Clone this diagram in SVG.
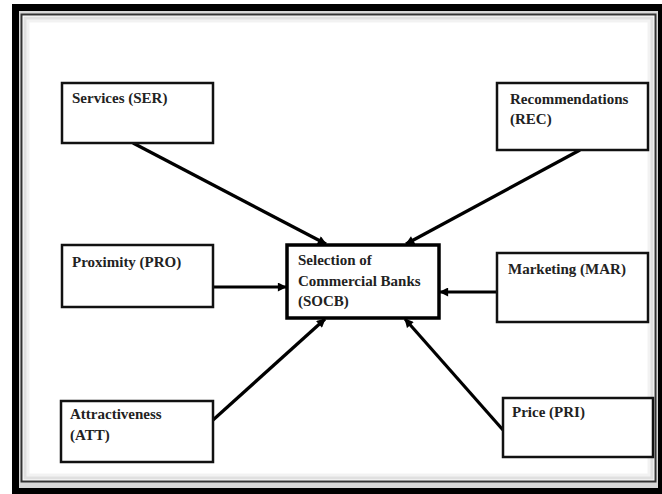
<svg xmlns="http://www.w3.org/2000/svg" width="662" height="494" viewBox="0 0 662 494">
<defs>
<style>
.box{fill:#fff;stroke:#111;stroke-width:2.5}
.lbl{font-family:"Liberation Serif","Times New Roman",serif;font-weight:bold;font-size:15px;fill:#222}
.con{stroke:#000;stroke-width:3.2;fill:none}
</style>
<marker id="ah" viewBox="0 0 10 10" refX="9" refY="5" markerWidth="10" markerHeight="9" markerUnits="userSpaceOnUse" orient="auto">
<path d="M0,0 L10,5 L0,10 z" fill="#000"/>
</marker>
</defs>
<g id="frame">
<rect x="12" y="4" width="650" height="490" fill="#000"/>
<rect x="19" y="11" width="639" height="477" fill="#d8d8d8"/>
<rect x="21.5" y="14.5" width="634" height="467" fill="#fff" stroke="#333" stroke-width="2"/>
<rect x="25" y="18" width="627" height="460" fill="none" stroke="#000" stroke-opacity="0.12" stroke-width="3"/>
<rect x="28" y="21" width="621" height="454" fill="none" stroke="#000" stroke-opacity="0.05" stroke-width="3"/>
</g>
<g id="connectors">
<line class="con" x1="133" y1="143" x2="326" y2="244" marker-end="url(#ah)"/>
<line class="con" x1="580" y1="150" x2="406" y2="244" marker-end="url(#ah)"/>
<line class="con" x1="213" y1="287" x2="286" y2="287" marker-end="url(#ah)"/>
<line class="con" x1="497" y1="292" x2="440" y2="292" marker-end="url(#ah)"/>
<line class="con" x1="213" y1="420" x2="325" y2="319" marker-end="url(#ah)"/>
<line class="con" x1="503" y1="430" x2="405" y2="319" marker-end="url(#ah)"/>
</g>
<g id="SER">
<rect class="box" x="62" y="83" width="151" height="60"/>
<text class="lbl" x="72" y="103">Services (SER)</text>
</g>
<g id="REC">
<rect class="box" x="497" y="83" width="151" height="67"/>
<text class="lbl" x="510" y="104">Recommendations</text>
<text class="lbl" x="510" y="124">(REC)</text>
</g>
<g id="PRO">
<rect class="box" x="62" y="245" width="151" height="62"/>
<text class="lbl" x="72" y="267">Proximity (PRO)</text>
</g>
<g id="SOCB">
<rect x="287" y="245" width="152" height="73" fill="#fff" stroke="#000" stroke-width="3.5"/>
<text class="lbl" x="298" y="265">Selection of</text>
<text class="lbl" x="298" y="286">Commercial Banks</text>
<text class="lbl" x="298" y="306">(SOCB)</text>
</g>
<g id="MAR">
<rect class="box" x="497" y="253" width="151" height="69"/>
<text class="lbl" x="508" y="274">Marketing (MAR)</text>
</g>
<g id="ATT">
<rect class="box" x="61" y="401" width="152" height="61"/>
<text class="lbl" x="70" y="419">Attractiveness</text>
<text class="lbl" x="70" y="440">(ATT)</text>
</g>
<g id="PRI">
<rect class="box" x="503" y="398" width="150" height="59"/>
<text class="lbl" x="512" y="417">Price (PRI)</text>
</g>
</svg>
